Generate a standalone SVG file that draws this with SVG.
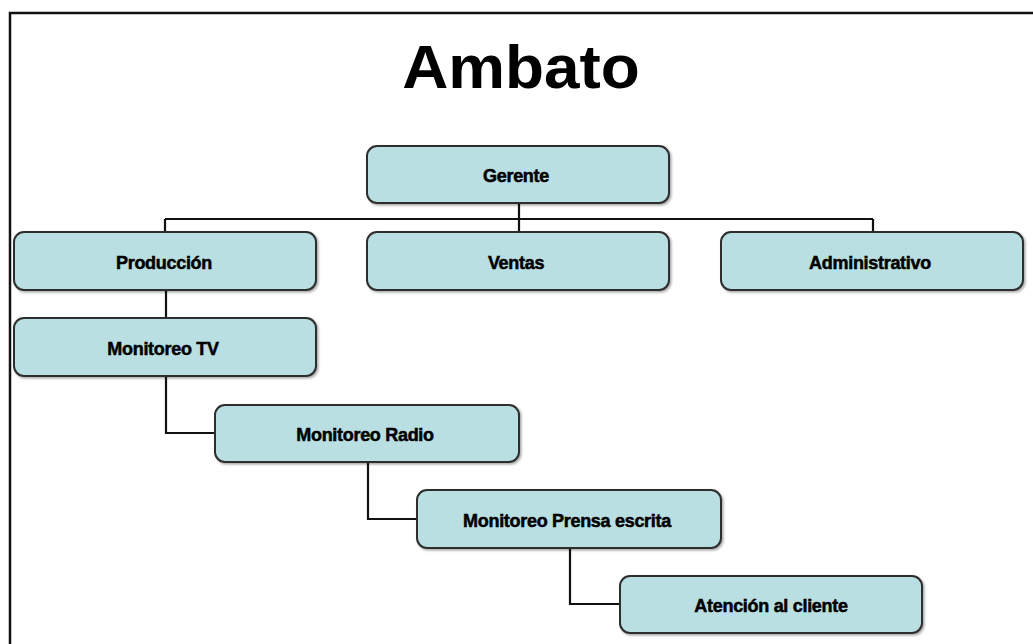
<svg xmlns="http://www.w3.org/2000/svg" width="1033" height="644" viewBox="0 0 1033 644">
  <defs>
    <filter id="shadow" x="-5%" y="-10%" width="110%" height="130%">
      <feDropShadow dx="1.5" dy="1.5" stdDeviation="0.8" flood-color="#000" flood-opacity="0.35"/>
    </filter>
  </defs>
  <style>
    .box { fill: #b9dfe2; stroke: #2e2e2e; stroke-width: 2; filter: url(#shadow); }
    .lbl { font-family: "Liberation Sans", Arial, sans-serif; font-weight: bold; font-size: 18px; fill: #000; stroke: #000; stroke-width: 0.5; text-anchor: middle; letter-spacing: -0.3px; }
    .title { font-family: "Liberation Sans", Arial, sans-serif; font-weight: bold; font-size: 62px; fill: #000; text-anchor: middle; }
    .conn { fill: none; stroke: #111; stroke-width: 2.2; }
    .frame { fill: none; stroke: #111; stroke-width: 2.5; }
  </style>

  <rect width="1033" height="644" fill="#fff"/>
  <!-- slide frame (left and top edges) -->
  <path class="frame" d="M10,644 V13 H1033"/>

  <text class="title" x="521" y="88" transform="translate(521 88) scale(1.03 1) translate(-521 -88)">Ambato</text>

  <g id="connectors">
    <path class="conn" d="M519,203 V232"/>
    <path class="conn" d="M165,219 H873"/>
    <path class="conn" d="M165,219 V232"/>
    <path class="conn" d="M873,219 V232"/>
    <path class="conn" d="M166,290 V318"/>
    <path class="conn" d="M166,376 V433 H215"/>
    <path class="conn" d="M368,462 V519 H417"/>
    <path class="conn" d="M570,548 V604 H620"/>
  </g>

  <g id="gerente">
    <rect class="box" x="367" y="146" width="302" height="57" rx="10"/>
    <text class="lbl" x="516" y="182">Gerente</text>
  </g>
  <g id="produccion">
    <rect class="box" x="14" y="232" width="302" height="58" rx="10"/>
    <text class="lbl" x="164" y="269">Producción</text>
  </g>
  <g id="ventas">
    <rect class="box" x="367" y="232" width="302" height="58" rx="10"/>
    <text class="lbl" x="516" y="269">Ventas</text>
  </g>
  <g id="administrativo">
    <rect class="box" x="721" y="232" width="302" height="58" rx="10"/>
    <text class="lbl" x="870" y="269">Administrativo</text>
  </g>
  <g id="monitoreo-tv">
    <rect class="box" x="14" y="318" width="302" height="58" rx="10"/>
    <text class="lbl" x="163" y="355">Monitoreo TV</text>
  </g>
  <g id="monitoreo-radio">
    <rect class="box" x="215" y="405" width="304" height="57" rx="10"/>
    <text class="lbl" x="365" y="441">Monitoreo Radio</text>
  </g>
  <g id="monitoreo-prensa">
    <rect class="box" x="417" y="490" width="304" height="58" rx="10"/>
    <text class="lbl" x="567" y="527">Monitoreo Prensa escrita</text>
  </g>
  <g id="atencion-cliente">
    <rect class="box" x="620" y="576" width="302" height="57" rx="10"/>
    <text class="lbl" x="771" y="612">Atención al cliente</text>
  </g>
</svg>
